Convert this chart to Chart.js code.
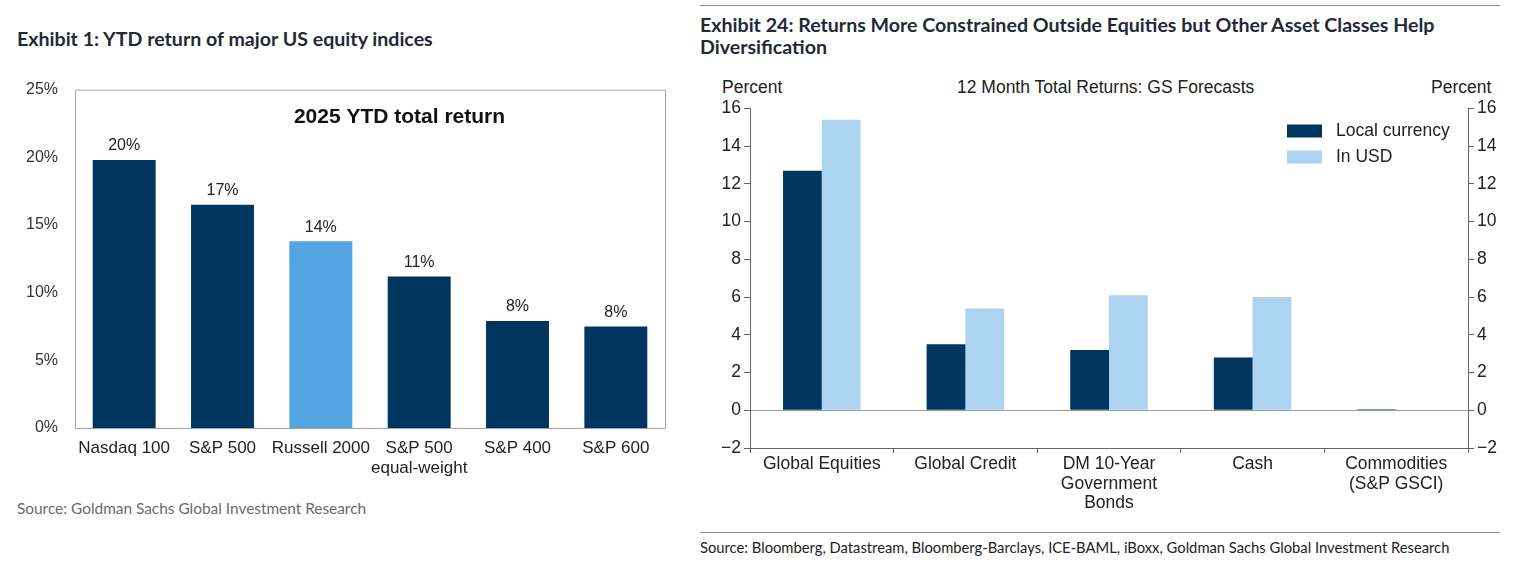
<!doctype html>
<html lang="en">
<head>
<meta charset="utf-8">
<title>Equity returns</title>
<script src="https://cdn.jsdelivr.net/npm/chart.js@4.4.0/dist/chart.umd.min.js"></script>
<style>
  body { margin: 0; background: #fff; width: 1516px; height: 563px; position: relative; overflow: hidden; font-family: "Liberation Sans", Arial, sans-serif; }
  .abs { position: absolute; white-space: nowrap; }
  .exh { font-family: Lato, "Open Sans", sans-serif; font-weight: 700; font-size: 19.6px; color: #1f2a36; line-height: 22px; }
  .src { font-family: Lato, "Open Sans", sans-serif; font-size: 15.4px; }
  .rule { position: absolute; height: 1px; background: #8c8c8c; }
  .lbl { font-size: 17.5px; color: #222; }
</style>
</head>
<body>

<!-- left panel -->
<div class="abs exh" style="left:17px; top:28px;">Exhibit 1: YTD return of major US equity indices</div>
<div class="abs" style="left:0; top:71px; width:680px; height:419px;"><canvas id="c1"></canvas></div>
<div class="abs src" style="left:17px; top:499px; color:#6b6b6b;">Source: Goldman Sachs Global Investment Research</div>

<!-- right panel -->
<div class="rule" style="left:700px; top:5px; width:800px;"></div>
<div class="abs exh" style="left:700px; top:14px;">Exhibit 24: Returns More Constrained Outside Equities but Other Asset Classes Help<br>Diversification</div>
<div class="abs lbl" style="left:722px; top:77px;">Percent</div>
<div class="abs lbl" style="left:1431px; top:77px;">Percent</div>
<div class="abs lbl" style="left:957px; top:77px;">12 Month Total Returns: GS Forecasts</div>
<div class="abs" style="left:700px; top:95px; width:816px; height:420px;"><canvas id="c2"></canvas></div>
<div class="rule" style="left:700px; top:532px; width:800px;"></div>
<div class="abs src" style="left:700px; top:538px; color:#222; font-size:14.75px;">Source: Bloomberg, Datastream, Bloomberg-Barclays, ICE-BAML, iBoxx, Goldman Sachs Global Investment Research</div>

<script>
// exhibit 1 data
var indices = ['Nasdaq 100', 'S&P 500', 'Russell 2000', ['S&P 500', 'equal-weight'], 'S&P 400', 'S&P 600'];
var ytdReturn = [19.8, 16.5, 13.8, 11.2, 7.9, 7.5];
var ytdLabels = ['20%', '17%', '14%', '11%', '8%', '8%'];
var ytdColors = ['#00355f', '#00355f', '#52a5e0', '#00355f', '#00355f', '#00355f'];

// exhibit 24 data
var assetClasses = ['Global Equities', 'Global Credit', ['DM 10-Year', 'Government', 'Bonds'], 'Cash', ['Commodities', '(S&P GSCI)']];
var localCurrency = [12.7, 3.5, 3.2, 2.8, 0.05];
var inUSD = [15.4, 5.4, 6.1, 6.0, 0.03];

Chart.defaults.font.family = '"Liberation Sans", Arial, sans-serif';
Chart.defaults.color = '#222';
Chart.defaults.animation = false;

// frame, inner title and value labels for exhibit 1
var ex1Plugin = {
  id: 'ex1',
  afterDraw: function (chart) {
    var ctx = chart.ctx, a = chart.chartArea;
    ctx.save();
    ctx.strokeStyle = '#a6a6a6';
    ctx.lineWidth = 1;
    ctx.strokeRect(a.left + 0.5, a.top + 0.5, a.right - a.left, a.bottom - a.top);
    ctx.fillStyle = '#111';
    ctx.font = 'bold 21px "Liberation Sans", Arial, sans-serif';
    ctx.textAlign = 'center';
    ctx.textBaseline = 'middle';
    ctx.fillText('2025 YTD total return', a.left + (a.right - a.left) * 0.55, a.top + 28);
    ctx.font = '16px "Liberation Sans", Arial, sans-serif';
    ctx.fillStyle = '#222';
    ctx.textBaseline = 'bottom';
    chart.getDatasetMeta(0).data.forEach(function (bar, i) {
      ctx.fillText(ytdLabels[i], bar.x, bar.y - 6);
    });
    ctx.restore();
  }
};

new Chart(document.getElementById('c1'), {
  type: 'bar',
  data: {
    labels: indices,
    datasets: [{ data: ytdReturn, backgroundColor: ytdColors, barPercentage: 0.64, categoryPercentage: 1 }]
  },
  options: {
    responsive: true,
    maintainAspectRatio: false,
    layout: { padding: { top: 10, right: 15 } },
    plugins: { legend: { display: false }, tooltip: { enabled: false } },
    scales: {
      x: {
        grid: { display: false },
        border: { display: false },
        ticks: { font: { size: 17, lineHeight: 1.15 }, color: '#222', maxRotation: 0, autoSkip: false, padding: 3 },
        afterFit: function (s) { s.height = 62; }
      },
      y: {
        min: 0, max: 25,
        grid: { display: false },
        border: { display: false },
        ticks: { stepSize: 5, font: { size: 16 }, color: '#333', padding: 9, callback: function (v) { return v + '%'; } },
        afterFit: function (s) { s.width = 75; }
      }
    }
  },
  plugins: [ex1Plugin]
});

// legend inside plot for exhibit 24
var ex24Legend = {
  id: 'ex24Legend',
  afterDraw: function (chart) {
    var ctx = chart.ctx, a = chart.chartArea;
    ctx.save();
    ctx.font = '17.5px "Liberation Sans", Arial, sans-serif';
    ctx.textBaseline = 'middle';
    ctx.textAlign = 'left';
    chart.data.datasets.forEach(function (ds, i) {
      var y = a.top + 16 + i * 26;
      ctx.fillStyle = ds.backgroundColor;
      ctx.fillRect(a.right - 181, y, 35, 13);
      ctx.fillStyle = '#222';
      ctx.fillText(ds.label, a.right - 132, y + 7);
    });
    ctx.restore();
  }
};

var tickFont = { size: 17.5 };
function minusTick(v) { return v < 0 ? '\u2212' + Math.abs(v) : v; }
new Chart(document.getElementById('c2'), {
  type: 'bar',
  data: {
    labels: assetClasses,
    datasets: [
      { label: 'Local currency', data: localCurrency, backgroundColor: '#00365f' },
      { label: 'In USD', data: inUSD, backgroundColor: '#acd3ef' }
    ]
  },
  options: {
    responsive: true,
    maintainAspectRatio: false,
    layout: { padding: { top: 13 } },
    datasets: { bar: { categoryPercentage: 0.54, barPercentage: 1 } },
    plugins: { legend: { display: false }, tooltip: { enabled: false } },
    scales: {
      x: {
        grid: { offset: true, drawOnChartArea: false, tickLength: 5, color: '#666' },
        border: { display: true, color: '#666' },
        ticks: { font: { size: 17.5, lineHeight: 1.1 }, color: '#222', maxRotation: 0, autoSkip: false, padding: 2 },
        afterFit: function (s) { s.height = 67; }
      },
      y: {
        position: 'left',
        min: -2, max: 16,
        grid: {
          color: function (c) { return c.tick.value === 0 ? '#9a9a9a' : 'rgba(0,0,0,0)'; },
          tickColor: '#666', tickLength: 6
        },
        border: { display: true, color: '#666' },
        ticks: { stepSize: 2, font: tickFont, color: '#222', padding: 3, callback: minusTick },
        afterFit: function (s) { s.width = 50; }
      },
      y2: {
        position: 'right',
        min: -2, max: 16,
        grid: { drawOnChartArea: false, tickColor: '#666', tickLength: 6 },
        border: { display: true, color: '#666' },
        ticks: { stepSize: 2, font: tickFont, color: '#222', padding: 3, callback: minusTick },
        afterFit: function (s) { s.width = 48; }
      }
    }
  },
  plugins: [ex24Legend]
});
</script>
</body>
</html>
